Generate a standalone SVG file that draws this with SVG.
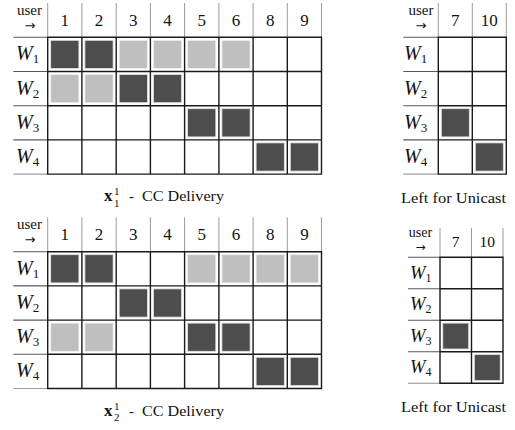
<svg xmlns="http://www.w3.org/2000/svg" width="515" height="430" viewBox="0 0 515 430">
<style>
  .grid{fill:none;stroke:#1a1a1a;stroke-width:1.4}
  .hdr{fill:none;stroke:#9a9a9a;stroke-width:1}
  .lab{fill:none;stroke:#5a5a5a;stroke-width:1.1}
  .bot{fill:none;stroke:#a0a0a0;stroke-width:1.2}
  .dk{fill:#4d4d4d;stroke:#e2e2e2;stroke-width:0.8}
  .lt{fill:#bfbfbf;stroke:#f0f0f0;stroke-width:0.8}
  text{font-family:"Liberation Serif","Times New Roman",serif;fill:#111}
  .num{font-size:17px;text-anchor:middle}
  .usr{font-size:15px;text-anchor:middle}
  .arr{font-family:"DejaVu Sans",sans-serif;font-size:13px;text-anchor:middle}
  .w{font-size:20px;font-style:italic}
  .ws{font-size:13px}
  .cap{font-size:15px}
  .bx{font-size:17px;font-weight:bold}
  .sc{font-size:11px}
  .num2{font-size:15.5px;text-anchor:middle}
  .usr2{font-size:14px;text-anchor:middle}
  .arr2{font-family:"DejaVu Sans",sans-serif;font-size:12px;text-anchor:middle}
  .w2{font-size:18.5px;font-style:italic}
  .ws2{font-size:12px}
</style>

<!-- Top-left table -->
<g id="cc1">
  <path class="hdr" d="M47.7 3V37.3M81.9 3V37.3M116.2 3V37.3M150.4 3V37.3M184.6 3V37.3M218.9 3V37.3M253.1 3V37.3M287.3 3V37.3M321.5 3V37.3"/>
  <text class="usr" x="29.5" y="15">user</text>
  <text class="arr" x="30" y="30">→</text>
  <text class="num" x="64.8" y="26">1</text>
  <text class="num" x="99" y="26">2</text>
  <text class="num" x="133.3" y="26">3</text>
  <text class="num" x="167.5" y="26">4</text>
  <text class="num" x="201.7" y="26">5</text>
  <text class="num" x="236" y="26">6</text>
  <text class="num" x="270.2" y="26">8</text>
  <text class="num" x="304.4" y="26">9</text>
  <path class="lab" d="M13.3 37.3H47.7M13.3 71.5H47.7M13.3 105.7H47.7M13.3 139.9H47.7"/>
  <path class="bot" d="M13.3 174.1H47.7"/>
  <text class="w" x="16" y="60.4">W<tspan class="ws" font-style="normal" dy="3">1</tspan></text>
  <text class="w" x="16" y="94.6">W<tspan class="ws" font-style="normal" dy="3">2</tspan></text>
  <text class="w" x="16" y="128.8">W<tspan class="ws" font-style="normal" dy="3">3</tspan></text>
  <text class="w" x="16" y="163">W<tspan class="ws" font-style="normal" dy="3">4</tspan></text>
  <rect class="dk" x="50.7" y="40.3" width="28.2" height="28.2"/>
  <rect class="dk" x="84.9" y="40.3" width="28.2" height="28.2"/>
  <rect class="lt" x="119.2" y="40.3" width="28.2" height="28.2"/>
  <rect class="lt" x="153.4" y="40.3" width="28.2" height="28.2"/>
  <rect class="lt" x="187.6" y="40.3" width="28.2" height="28.2"/>
  <rect class="lt" x="221.9" y="40.3" width="28.2" height="28.2"/>
  <rect class="lt" x="50.7" y="74.5" width="28.2" height="28.2"/>
  <rect class="lt" x="84.9" y="74.5" width="28.2" height="28.2"/>
  <rect class="dk" x="119.2" y="74.5" width="28.2" height="28.2"/>
  <rect class="dk" x="153.4" y="74.5" width="28.2" height="28.2"/>
  <rect class="dk" x="187.6" y="108.7" width="28.2" height="28.2"/>
  <rect class="dk" x="221.9" y="108.7" width="28.2" height="28.2"/>
  <rect class="dk" x="256.1" y="142.9" width="28.2" height="28.2"/>
  <rect class="dk" x="290.3" y="142.9" width="28.2" height="28.2"/>
  <path class="grid" d="M47.7 37.3H321.5V174.1H47.7Z M47.7 71.5H321.5M47.7 105.7H321.5M47.7 139.9H321.5 M81.9 37.3V174.1M116.2 37.3V174.1M150.4 37.3V174.1M184.6 37.3V174.1M218.9 37.3V174.1M253.1 37.3V174.1M287.3 37.3V174.1"/>
  <text class="bx" x="104" y="201">x</text>
  <text class="sc" x="114" y="195">1</text>
  <text class="sc" x="114" y="206.5">1</text>
  <text class="cap" x="129" y="201">-</text>
  <text class="cap" x="142" y="201" textLength="82" lengthAdjust="spacingAndGlyphs">CC Delivery</text>
</g>

<!-- Bottom-left table -->
<g id="cc2" transform="translate(0,214.4)">
  <path class="hdr" d="M47.7 3V37.3M81.9 3V37.3M116.2 3V37.3M150.4 3V37.3M184.6 3V37.3M218.9 3V37.3M253.1 3V37.3M287.3 3V37.3M321.5 3V37.3"/>
  <text class="usr" x="29.5" y="15">user</text>
  <text class="arr" x="30" y="30">→</text>
  <text class="num" x="64.8" y="26">1</text>
  <text class="num" x="99" y="26">2</text>
  <text class="num" x="133.3" y="26">3</text>
  <text class="num" x="167.5" y="26">4</text>
  <text class="num" x="201.7" y="26">5</text>
  <text class="num" x="236" y="26">6</text>
  <text class="num" x="270.2" y="26">8</text>
  <text class="num" x="304.4" y="26">9</text>
  <path class="lab" d="M13.3 37.3H47.7M13.3 71.5H47.7M13.3 105.7H47.7M13.3 139.9H47.7"/>
  <path class="bot" d="M13.3 174.1H47.7"/>
  <text class="w" x="16" y="60.4">W<tspan class="ws" font-style="normal" dy="3">1</tspan></text>
  <text class="w" x="16" y="94.6">W<tspan class="ws" font-style="normal" dy="3">2</tspan></text>
  <text class="w" x="16" y="128.8">W<tspan class="ws" font-style="normal" dy="3">3</tspan></text>
  <text class="w" x="16" y="163">W<tspan class="ws" font-style="normal" dy="3">4</tspan></text>
  <rect class="dk" x="50.7" y="40.3" width="28.2" height="28.2"/>
  <rect class="dk" x="84.9" y="40.3" width="28.2" height="28.2"/>
  <rect class="lt" x="187.6" y="40.3" width="28.2" height="28.2"/>
  <rect class="lt" x="221.9" y="40.3" width="28.2" height="28.2"/>
  <rect class="lt" x="256.1" y="40.3" width="28.2" height="28.2"/>
  <rect class="lt" x="290.3" y="40.3" width="28.2" height="28.2"/>
  <rect class="dk" x="119.2" y="74.5" width="28.2" height="28.2"/>
  <rect class="dk" x="153.4" y="74.5" width="28.2" height="28.2"/>
  <rect class="lt" x="50.7" y="108.7" width="28.2" height="28.2"/>
  <rect class="lt" x="84.9" y="108.7" width="28.2" height="28.2"/>
  <rect class="dk" x="187.6" y="108.7" width="28.2" height="28.2"/>
  <rect class="dk" x="221.9" y="108.7" width="28.2" height="28.2"/>
  <rect class="dk" x="256.1" y="142.9" width="28.2" height="28.2"/>
  <rect class="dk" x="290.3" y="142.9" width="28.2" height="28.2"/>
  <path class="grid" d="M47.7 37.3H321.5V174.1H47.7Z M47.7 71.5H321.5M47.7 105.7H321.5M47.7 139.9H321.5 M81.9 37.3V174.1M116.2 37.3V174.1M150.4 37.3V174.1M184.6 37.3V174.1M218.9 37.3V174.1M253.1 37.3V174.1M287.3 37.3V174.1"/>
  <text class="bx" x="104" y="201.3">x</text>
  <text class="sc" x="114" y="195.6">1</text>
  <text class="sc" x="114" y="207.1">2</text>
  <text class="cap" x="129" y="201.3">-</text>
  <text class="cap" x="142" y="201.3" textLength="82" lengthAdjust="spacingAndGlyphs">CC Delivery</text>
</g>

<!-- Top-right table -->
<g id="uc1">
  <path class="hdr" d="M438.3 3V37.3M472.3 3V37.3M506.3 3V37.3"/>
  <text class="usr" x="421" y="15">user</text>
  <text class="arr" x="421" y="30">→</text>
  <text class="num" x="455.3" y="26">7</text>
  <text class="num" x="489.3" y="26">10</text>
  <path class="lab" d="M403.3 37.3H438.3M403.3 71.5H438.3M403.3 105.7H438.3M403.3 139.9H438.3"/>
  <path class="bot" d="M403.3 174.1H438.3"/>
  <text class="w" x="404" y="60.4">W<tspan class="ws" font-style="normal" dy="3">1</tspan></text>
  <text class="w" x="404" y="94.6">W<tspan class="ws" font-style="normal" dy="3">2</tspan></text>
  <text class="w" x="404" y="128.8">W<tspan class="ws" font-style="normal" dy="3">3</tspan></text>
  <text class="w" x="404" y="163">W<tspan class="ws" font-style="normal" dy="3">4</tspan></text>
  <rect class="dk" x="441.3" y="108.7" width="28" height="28.2"/>
  <rect class="dk" x="475.3" y="142.9" width="28" height="28.2"/>
  <path class="grid" d="M438.3 37.3H506.3V174.1H438.3Z M438.3 71.5H506.3M438.3 105.7H506.3M438.3 139.9H506.3 M472.3 37.3V174.1"/>
  <text class="cap" x="401" y="202.5" textLength="105" lengthAdjust="spacingAndGlyphs">Left for Unicast</text>
</g>

<!-- Bottom-right table -->
<g id="uc2">
  <path class="hdr" d="M440 228V257.3M471.5 228V257.3M503 228V257.3"/>
  <text class="usr2" x="420.5" y="237">user</text>
  <text class="arr2" x="420.5" y="251">→</text>
  <text class="num2" x="455.7" y="247">7</text>
  <text class="num2" x="487.2" y="247">10</text>
  <path class="lab" d="M408 257.3H440M408 288.8H440M408 320.3H440M408 351.8H440"/>
  <path class="bot" d="M408 383.3H440"/>
  <text class="w2" x="410" y="278.5">W<tspan class="ws2" font-style="normal" dy="3">1</tspan></text>
  <text class="w2" x="410" y="310">W<tspan class="ws2" font-style="normal" dy="3">2</tspan></text>
  <text class="w2" x="410" y="341.5">W<tspan class="ws2" font-style="normal" dy="3">3</tspan></text>
  <text class="w2" x="410" y="373">W<tspan class="ws2" font-style="normal" dy="3">4</tspan></text>
  <rect class="dk" x="442.8" y="323.1" width="25.9" height="25.9"/>
  <rect class="dk" x="474.3" y="354.6" width="25.9" height="25.9"/>
  <path class="grid" d="M440 257.3H503V383.3H440Z M440 288.8H503M440 320.3H503M440 351.8H503 M471.5 257.3V383.3"/>
  <text class="cap" x="401" y="412" textLength="105" lengthAdjust="spacingAndGlyphs">Left for Unicast</text>
</g>
</svg>
